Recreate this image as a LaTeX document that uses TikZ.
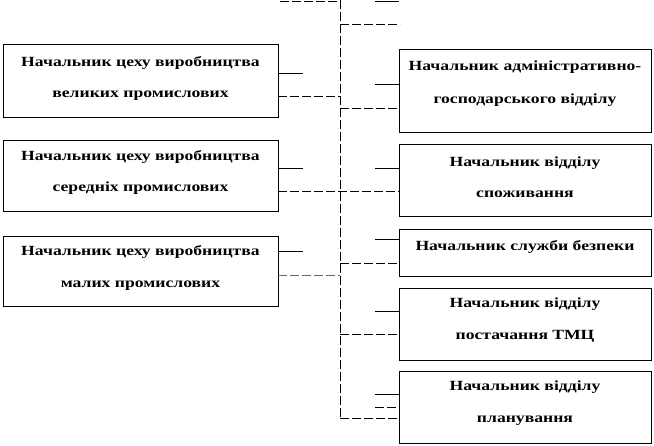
\documentclass[tikz,border=0pt]{standalone}
\usepackage{fontspec}
\setmainfont[FakeStretch=1.26]{Liberation Serif}
\begin{document}
\begin{tikzpicture}[x=1pt,y=-1pt,
  box/.style={draw,line width=0.8pt,inner sep=0pt},
  txt/.style={align=center,inner sep=0pt,
    font=\bfseries\fontsize{14}{31.5}\selectfont},
  conn/.style={line width=0.8pt},
  dconn/.style={line width=0.8pt,dash pattern=on 9pt off 3pt}]
\useasboundingbox (0,0) rectangle (654,446);
% left boxes
\node[box,minimum width=275pt,minimum height=73pt] (L1) at (140.5,80.5) {};
\node[box,minimum width=275pt,minimum height=71pt] (L2) at (140.5,175.5) {};
\node[box,minimum width=275pt,minimum height=70pt] (L3) at (140.5,271) {};
\node[txt] (L1t) at ([yshift=2pt]L1.center) {Начальник цеху виробництва\\великих промислових};
\node[txt] (L2t) at ([yshift=3pt]L2.center) {Начальник цеху виробництва\\середніх промислових};
\node[txt] (L3t) at ([yshift=3pt]L3.center) {Начальник цеху виробництва\\малих промислових};
% right boxes
\node[box,minimum width=252pt,minimum height=83pt] (R1) at (525,90.5) {};
\node[box,minimum width=252pt,minimum height=72pt] (R2) at (525,180) {};
\node[box,minimum width=252pt,minimum height=47pt] (R3) at (525,252.5) {};
\node[box,minimum width=252pt,minimum height=72pt] (R4) at (525,324) {};
\node[box,minimum width=252pt,minimum height=72pt] (R5) at (525,407) {};
\node[txt,font=\bfseries\fontsize{14}{33}\selectfont] (R1t) at ([yshift=7pt]R1.center) {Начальник адміністративно-\\господарського відділу};
\node[txt] (R2t) at ([yshift=3pt]R2.center) {Начальник відділу\\споживання};
\node[txt] (R3t) at ([yshift=5pt]R3.center) {Начальник служби безпеки};
\node[txt] (R4t) at ([yshift=4pt]R4.center) {Начальник відділу\\постачання ТМЦ};
\node[txt] (R5t) at ([yshift=4pt]R5.center) {Начальник відділу\\планування};
% trunk
\coordinate (Ttop) at (340,0);
\coordinate (Tbot) at (340,420);
\draw[dconn] (Ttop) -- (Tbot);
% top stubs
\coordinate (A1) at (280,1);
\coordinate (A2) at (340,1);
\coordinate (A3) at (375,1);
\coordinate (A4) at (399,1);
\draw[dconn] (A1) -- (A2);
\draw[conn] (A3) -- (A4);
\coordinate (B1) at (340,24);
\coordinate (B2) at (400,24);
\draw[dconn] (B1) -- (B2);
% left stubs
\coordinate (l1s) at (303,73);
\coordinate (l1d) at (340,96);
\draw[conn] (L1.east |- l1s) -- (l1s);
\draw[dconn] (L1.east |- l1d) -- (l1d);
\coordinate (l2s) at (303,168);
\draw[conn] (L2.east |- l2s) -- (l2s);
\coordinate (l2d) at (340,191);
\draw[dconn] (L2.east |- l2d) -- (R2.west |- l2d);
\coordinate (l3s) at (303,251);
\coordinate (l3d) at (340,275);
\draw[conn] (L3.east |- l3s) -- (l3s);
\draw[dconn,draw=black!60] (L3.east |- l3d) -- (l3d);
% right stubs
\coordinate (r1s) at (375,84);
\coordinate (r1d) at (340,108);
\draw[conn] (r1s) -- (R1.west |- r1s);
\draw[dconn] (r1d) -- (R1.west |- r1d);
\coordinate (r2s) at (375,168);
\draw[conn] (r2s) -- (R2.west |- r2s);
\coordinate (r3s) at (375,239);
\coordinate (r3d) at (340,263);
\draw[conn] (r3s) -- (R3.west |- r3s);
\draw[dconn] (r3d) -- (R3.west |- r3d);
\coordinate (r4s) at (375,311);
\coordinate (r4d) at (340,334);
\draw[conn] (r4s) -- (R4.west |- r4s);
\draw[dconn] (r4d) -- (R4.west |- r4d);
\coordinate (r5s) at (375,394);
\coordinate (r5e) at (375,407);
\coordinate (r5d) at (340,418);
\draw[conn] (r5s) -- (R5.west |- r5s);
\draw[dconn] (r5e) -- (R5.west |- r5e);
\draw[dconn] (r5d) -- (R5.west |- r5d);
\end{tikzpicture}
\end{document}
